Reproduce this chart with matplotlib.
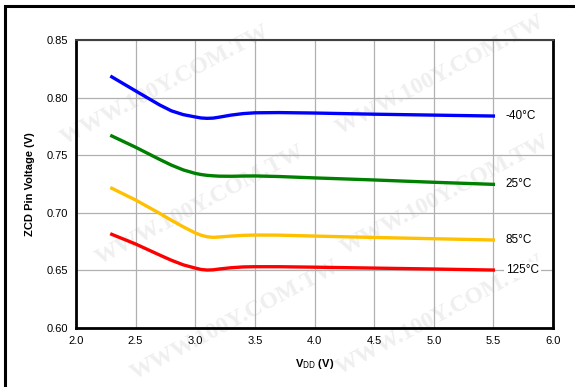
import numpy as np
import matplotlib.pyplot as plt
from matplotlib.patches import Rectangle

# VDD (V) sample points
vdd = [2.3, 2.5, 2.7, 2.8, 2.9, 3.0, 3.05, 3.1, 3.15, 3.2, 3.3, 3.4, 3.5, 3.7, 4.0, 4.5, 5.0, 5.5]

v_m40 = [0.818, 0.8058, 0.7937, 0.7885, 0.7852, 0.7832, 0.7823, 0.782, 0.7822, 0.783,
         0.7848, 0.7861, 0.7868, 0.787, 0.7866, 0.7856, 0.7848, 0.784]
v_25 = [0.7667, 0.7569, 0.7464, 0.7414, 0.7372, 0.7342, 0.7332, 0.7325, 0.7321, 0.7318,
        0.7317, 0.7319, 0.732, 0.7315, 0.7303, 0.7285, 0.7265, 0.7247]
v_85 = [0.7213, 0.7111, 0.6996, 0.6935, 0.6878, 0.6825, 0.6805, 0.6792, 0.6787, 0.679,
        0.6798, 0.6804, 0.6807, 0.6806, 0.6798, 0.6786, 0.6775, 0.6764]
v_125 = [0.6813, 0.6729, 0.6634, 0.6588, 0.6548, 0.652, 0.6508, 0.6503, 0.6505, 0.6512,
         0.6523, 0.653, 0.6532, 0.6532, 0.6528, 0.652, 0.6512, 0.6503]

series = [v_m40, v_25, v_85, v_125]
labels = ['-40°C', '25°C', '85°C', '125°C']
colors = ['#0000ff', '#008000', '#ffc000', '#ff0000']

plt.rcParams['font.family'] = ['Liberation Sans', 'DejaVu Sans']

fig = plt.figure(figsize=(5.75, 3.87), dpi=100)
ax = fig.add_axes([76/575, 1-328/387, 477/575, 288/387])
ax.set_facecolor('none')
ax.set_zorder(2)

# faint watermark behind the plot
for (px, py) in [(165, 85), (200, 205), (235, 320), (440, 75), (445, 195), (440, 315)]:
    fig.text(px/575, 1-py/387, 'WWW.100Y.COM.TW', rotation=28, ha='center', va='center',
             fontsize=17, fontweight='bold', family='Liberation Serif', color='#efefef', zorder=-5)

# outer frame
fig.patches.append(Rectangle((5/575, -0.1), 1.2, 1 - 6/387 + 0.1, transform=fig.transFigure,
                             fill=False, edgecolor='black', linewidth=2.2, zorder=1))

for v, lab, c in zip(series, labels, colors):
    ax.plot(vdd, v, color=c, linewidth=2.4, solid_joinstyle='round', zorder=3)
    ax.annotate(lab, xy=(vdd[-1], v[-1]), xytext=(9, 0), textcoords='offset points',
                ha='left', va='center', fontsize=8.5,
                bbox=dict(boxstyle='square,pad=0.15', fc='white', ec='none'), zorder=4)

ax.set_xlim(2.0, 6.0)
ax.set_ylim(0.60, 0.85)
ax.set_xticks(np.arange(2.0, 6.01, 0.5))
ax.set_yticks(np.arange(0.60, 0.851, 0.05))
ax.xaxis.set_major_formatter(plt.FormatStrFormatter('%.1f'))
ax.yaxis.set_major_formatter(plt.FormatStrFormatter('%.2f'))
ax.tick_params(length=0, labelsize=8, pad=6)
ax.grid(True, color='#b0b0b0', linewidth=0.9)
ax.set_axisbelow(True)
for s in ['left', 'bottom', 'right']:
    ax.spines[s].set_linewidth(2)
ax.spines['top'].set_linewidth(1.5)
ax.spines['top'].set_color('#404040')

ax.set_ylabel('ZCD Pin Voltage (V)', fontsize=8, fontweight='bold', labelpad=8)
ax.set_xlabel(r'V$_{\mathrm{DD}}$ (V)', fontsize=8, fontweight='bold', labelpad=8)

fig.savefig('out.png', dpi=100)
